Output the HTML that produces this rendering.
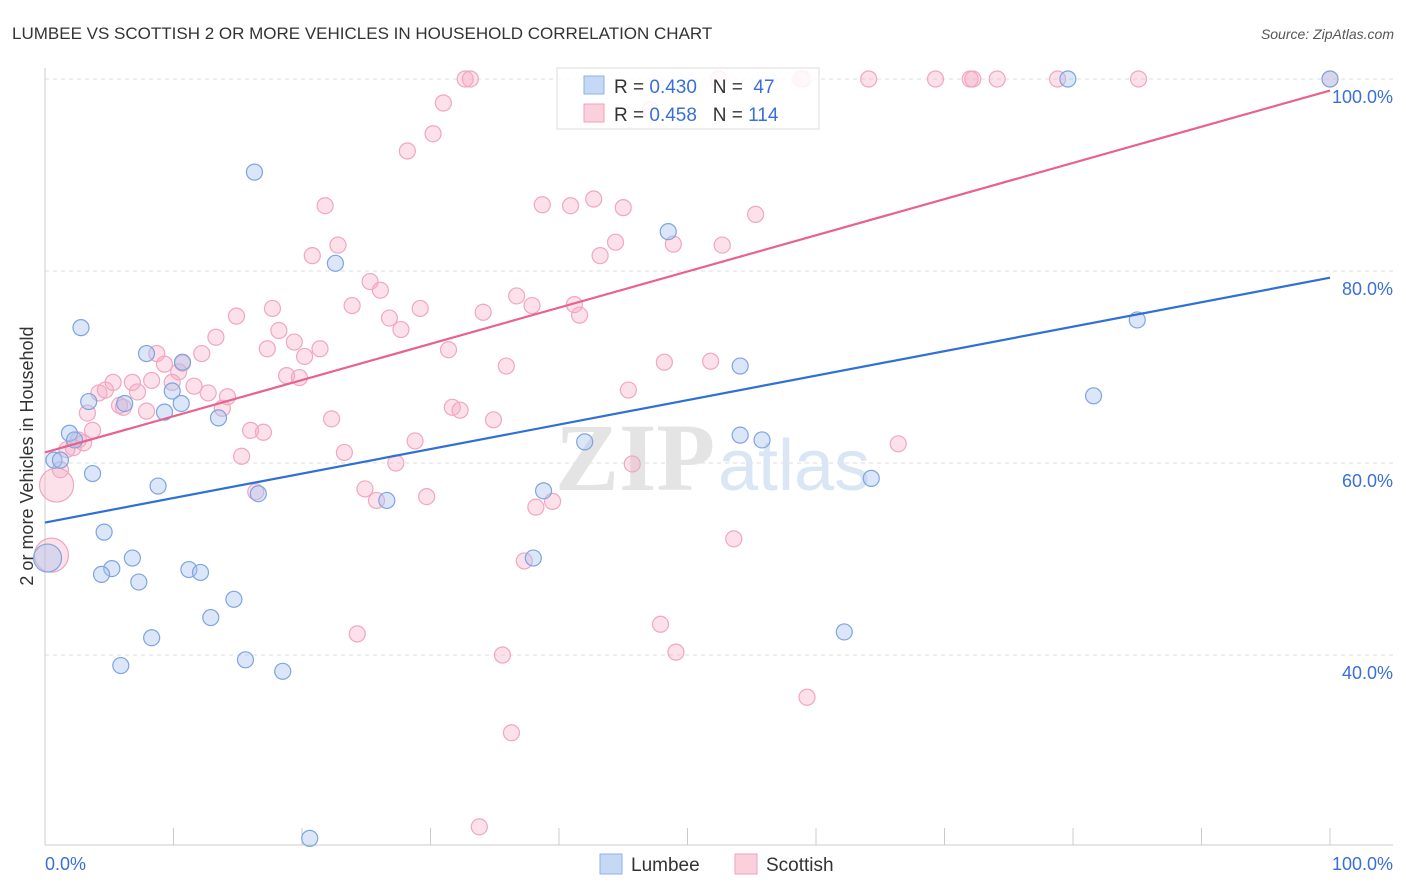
<!DOCTYPE html>
<html><head><meta charset="utf-8"><style>
body{margin:0;background:#fff;font-family:"Liberation Sans",sans-serif}
svg{display:block}
</style></head><body>
<svg width="1406" height="892" viewBox="0 0 1406 892">
<text x="12" y="39" font-size="17" fill="#333">LUMBEE VS SCOTTISH 2 OR MORE VEHICLES IN HOUSEHOLD CORRELATION CHART</text>
<text x="1394" y="39" font-size="14" fill="#555" font-style="italic" text-anchor="end">Source: ZipAtlas.com</text>
<g id="grid"></g>
<text x="555" y="490" font-size="96" fill="#e4e4e4" font-family="Liberation Serif,serif" font-weight="bold">ZIP</text>
<text x="718" y="490" font-size="72" fill="#dbe6f5">atlas</text>
<line x1="45" y1="68" x2="45" y2="845" stroke="#ccc"/>
<line x1="45" y1="845" x2="1393" y2="845" stroke="#ccc"/>
<g id="ticks"></g>
<g id="pts"></g>
<g id="lines"></g>
<g>
<rect x="557" y="68" width="262" height="61" fill="#fff" fill-opacity="0.85" stroke="#ddd"/>
<rect x="584" y="76" width="20" height="18" fill="#c5d8f5" stroke="#8fb0e6"/>
<rect x="584" y="104" width="20" height="18" fill="#fbd0dd" stroke="#f0a0b8"/>
<text x="614" y="93" font-size="19" fill="#333" xml:space="preserve">R = <tspan fill="#3a6fd8">0.430</tspan>   N =  <tspan fill="#3a6fd8">47</tspan></text>
<text x="614" y="121" font-size="19" fill="#333" xml:space="preserve">R = <tspan fill="#3a6fd8">0.458</tspan>   N = <tspan fill="#3a6fd8">114</tspan></text>
</g>
<text x="45" y="870" font-size="18" fill="#3a6fd8">0.0%</text>
<text x="1393" y="870" font-size="18" fill="#3a6fd8" text-anchor="end">100.0%</text>
<text transform="translate(33,456) rotate(-90)" font-size="18" fill="#333" text-anchor="middle">2 or more Vehicles in Household</text>
<g>
<rect x="600" y="854" width="22" height="20" fill="#c5d8f5" stroke="#8fb0e6"/>
<text x="631" y="871" font-size="19" fill="#333">Lumbee</text>
<rect x="735" y="854" width="22" height="20" fill="#fbd0dd" stroke="#f0a0b8"/>
<text x="766" y="871" font-size="19" fill="#333">Scottish</text>
</g>
</svg>
<script>
const yTicks=[40,60,80,100];
const yTickLabels=["40.0%","60.0%","80.0%","100.0%"];
const blueX=[100,79.6,16.3,22.6,48.5,2.8,85,7.9,10.7,54.1,81.6,3.4,6.2,9.9,10.6,9.3,13.5,1.9,2.3,42,54.1,55.8,0.7,1.2,3.7,8.8,64.3,38.8,16.6,26.6,4.6,6.8,38,5.2,4.4,11.2,12.1,7.3,14.7,12.9,8.3,62.2,5.9,15.6,18.5,20.6];
const blueY=[100,100,90.3,80.8,84.1,74.1,74.9,71.4,70.5,70.1,67,66.4,66.2,67.5,66.2,65.3,64.7,63.1,62.4,62.2,62.9,62.4,60.3,60.3,58.9,57.6,58.4,57.1,56.8,56.1,52.8,50.1,50.1,49,48.4,48.9,48.6,47.6,45.8,43.9,41.8,42.4,38.9,39.5,38.3,20.9];
const blueBigX=[0.2];
const blueBigY=[50.1];
const pinkX=[32.7,33.1,52.4,59.0,64.1,69.3,72.0,72.2,74.1,78.8,85.1,100,58.8,31.0,30.2,28.2,21.8,38.7,40.9,42.7,45.0,55.3,22.8,20.8,44.4,48.9,52.7,43.2,25.3,26.1,23.9,29.2,36.7,17.7,14.9,34.1,37.9,41.2,41.6,26.8,27.7,18.2,13.3,19.4,17.3,21.4,8.7,12.2,20.2,31.4,35.9,48.2,51.8,10.7,9.3,10.4,18.8,19.8,5.3,6.8,8.3,9.9,11.6,12.7,4.2,4.7,7.2,14.2,6.1,7.9,13.8,5.8,45.4,31.7,32.3,34.9,22.3,3.3,3.7,16.0,17.0,28.8,66.4,2.6,3.0,1.7,2.2,23.3,15.3,45.7,27.3,1.2,24.9,16.4,25.8,29.7,39.5,38.2,53.6,37.3,24.3,47.9,35.6,49.1,59.3,36.3,33.8,47.1];
const pinkY=[100,100,100,100,100,100,100,100,100,100,100,100,100,97.5,94.3,92.5,86.8,86.9,86.8,87.5,86.6,85.9,82.7,81.6,83.0,82.8,82.7,81.6,78.9,78.0,76.4,76.1,77.4,76.1,75.3,75.7,76.4,76.5,75.4,75.1,73.9,73.8,73.1,72.6,71.9,71.9,71.4,71.4,71.1,71.8,70.1,70.5,70.6,70.4,70.3,69.5,69.1,68.9,68.4,68.4,68.6,68.4,68.0,67.3,67.3,67.6,67.4,66.9,65.8,65.4,65.7,66.0,67.6,65.8,65.5,64.5,64.6,65.2,63.4,63.4,63.2,62.3,62.0,62.4,62.1,61.4,61.6,61.1,60.7,59.9,60.0,59.3,57.3,57.0,56.1,56.5,56.0,55.4,52.1,49.8,42.2,43.2,40.0,40.3,35.6,31.9,22.1,96.8];
const pinkBigX=[0.9,0.5];
const pinkBigY=[57.7,50.4];
const blueLine=[53.8,79.3];
const pinkLine=[61.1,98.8];

const NS="http://www.w3.org/2000/svg";
const X=v=>45+v*12.85, Y=v=>1039-v*9.6;
function mk(tag,attrs,parent){const e=document.createElementNS(NS,tag);for(const k in attrs)e.setAttribute(k,attrs[k]);parent.appendChild(e);return e;}
const grid=document.getElementById('grid');
yTicks.forEach((t,i)=>{
  const l=mk('line',{x1:45,x2:1393,y1:Y(t),y2:Y(t),stroke:'#ddd','stroke-dasharray':'4,4'},grid);
  
  
  const tx=mk('text',{x:1393,y:Y(t)+24,'font-size':18,fill:'#3a6fd8','text-anchor':'end'},grid);
  tx.textContent=yTickLabels[i];
  
  
});
const ticks=document.getElementById('ticks');
for(let i=0;i<=10;i++){
  const l=mk('line',{x1:X(i*10),x2:X(i*10),y1:828,y2:845,stroke:'#ccc'},ticks);
  
  
}
const pts=document.getElementById('pts');
function pinkPt(x,y,r){
  const c=mk('circle',{cx:X(x),cy:Y(y),r:r,fill:'rgba(246,170,195,0.35)',stroke:'#f0a7bf','stroke-width':1.2},pts);
  
  
}
function bluePt(x,y,r){
  const c=mk('circle',{cx:X(x),cy:Y(y),r:r,fill:'rgba(165,195,240,0.4)',stroke:'#7ea4e0','stroke-width':1.2},pts);
  
  
}
pinkX.forEach((x,i)=>pinkPt(x,pinkY[i],8));
pinkBigX.forEach((x,i)=>pinkPt(x,pinkBigY[i],17));
blueX.forEach((x,i)=>bluePt(x,blueY[i],8));
blueBigX.forEach((x,i)=>bluePt(x,blueBigY[i],14));
const lines=document.getElementById('lines');
const bl=mk('line',{x1:X(0),y1:Y(blueLine[0]),x2:X(100),y2:Y(blueLine[1]),stroke:'#2f6fd6','stroke-width':2.2},lines);


const pl=mk('line',{x1:X(0),y1:Y(pinkLine[0]),x2:X(100),y2:Y(pinkLine[1]),stroke:'#e8628e','stroke-width':2.2},lines);


</script>
</body></html>
